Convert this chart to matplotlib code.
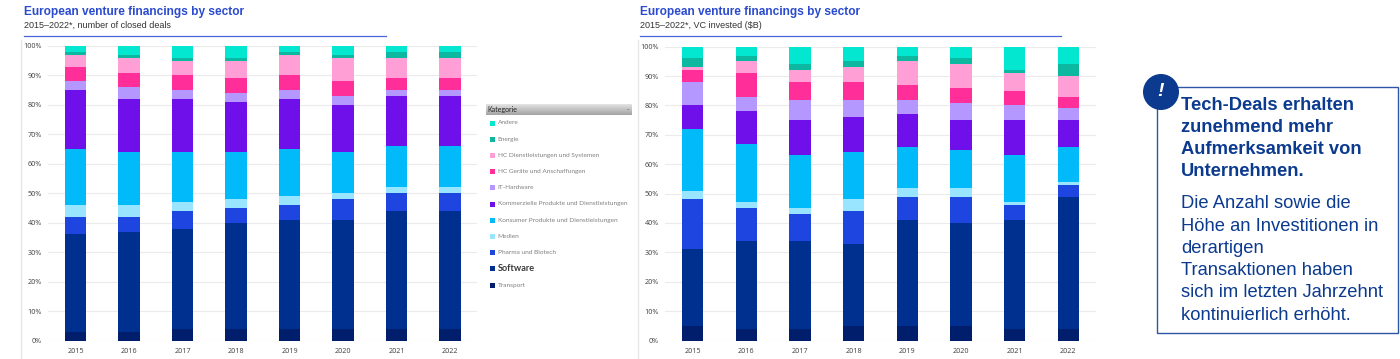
import matplotlib
matplotlib.use("Agg")
import matplotlib.pyplot as plt
from matplotlib.patches import Rectangle, Circle
from matplotlib.ticker import FuncFormatter

W, H = 1400, 359
years = ["2015", "2016", "2017", "2018", "2019", "2020", "2021", "2022"]
categories = ["Transport", "Software", "Pharma und Biotech", "Medien",
              "Konsumer Produkte und Dienstleistungen",
              "Kommerzielle Produkte und Dienstleistungen", "IT-Hardware",
              "HC Geräte und Anschaffungen", "HC Dienstleistungen und Systemen",
              "Energie", "Andere"]
colors = ["#001E6C", "#00308F", "#1F45E0", "#99E4FF", "#00BAFA", "#6F10EA",
          "#B497FF", "#FF2E98", "#FF9FD6", "#0DB8A0", "#03E6D0"]

deals_transport = [3, 3, 4, 4, 4, 4, 4, 4]
deals_software = [33, 34, 34, 36, 37, 37, 40, 40]
deals_pharma = [6, 5, 6, 5, 5, 7, 6, 6]
deals_medien = [4, 4, 3, 3, 3, 2, 2, 2]
deals_konsumer = [19, 18, 17, 16, 16, 14, 14, 14]
deals_kommerz = [20, 18, 18, 17, 17, 16, 17, 17]
deals_it = [3, 4, 3, 3, 3, 3, 2, 2]
deals_hcg = [5, 5, 5, 5, 5, 5, 4, 4]
deals_hcd = [4, 5, 5, 6, 7, 8, 7, 7]
deals_energie = [1, 1, 1, 1, 1, 1, 2, 2]
deals_andere = [2, 3, 4, 4, 2, 3, 2, 2]

vc_transport = [5, 4, 4, 5, 5, 5, 4, 4]
vc_software = [26, 30, 30, 28, 36, 35, 37, 45]
vc_pharma = [17, 11, 9, 11, 8, 9, 5, 4]
vc_medien = [3, 2, 2, 4, 3, 3, 1, 1]
vc_konsumer = [21, 20, 18, 16, 14, 13, 16, 12]
vc_kommerz = [8, 11, 12, 12, 11, 10, 12, 9]
vc_it = [8, 5, 7, 6, 5, 6, 5, 4]
vc_hcg = [4, 8, 6, 6, 5, 5, 5, 4]
vc_hcd = [1, 4, 4, 5, 8, 8, 6, 7]
vc_energie = [3, 2, 2, 2, 2, 2, 1, 4]
vc_andere = [4, 3, 6, 5, 3, 4, 8, 6]

deals = [deals_transport, deals_software, deals_pharma, deals_medien, deals_konsumer,
         deals_kommerz, deals_it, deals_hcg, deals_hcd, deals_energie, deals_andere]
vc = [vc_transport, vc_software, vc_pharma, vc_medien, vc_konsumer,
      vc_kommerz, vc_it, vc_hcg, vc_hcd, vc_energie, vc_andere]

title = "European venture financings by sector"
sub_left = "2015–2022*, number of closed deals"
sub_right = "2015–2022*, VC invested ($B)"
callout_head = ["Tech-Deals erhalten", "zunehmend mehr", "Aufmerksamkeit von", "Unternehmen."]
callout_body = ["Die Anzahl sowie die", "Höhe an Investitionen in", "derartigen",
                "Transaktionen haben", "sich im letzten Jahrzehnt", "kontinuierlich erhöht."]

fig = plt.figure(figsize=(W / 100, H / 100), dpi=100, facecolor="white")
bg = fig.add_axes([0, 0, 1, 1])
bg.set_xlim(0, W)
bg.set_ylim(H, 0)
bg.axis("off")

BLUE = "#2B4BCF"
DARK = "#0B3A8F"
ARIAL = "Liberation Sans"


def chart(left, right, top, bottom, first, last, series):
    ax = fig.add_axes([left / W, 1 - bottom / H, (right - left) / W, (bottom - top) / H])
    ax.patch.set_alpha(0)
    step = (last - first) / 7
    ax.set_xlim((left - first) / step, (right - first) / step)
    ax.set_ylim(0, 100)
    xs = list(range(len(years)))
    base = [0] * len(years)
    for vals, col in zip(series, colors):
        ax.bar(xs, vals, bottom=base, width=21.3 / step, color=col, linewidth=0, zorder=3)
        base = [b + v for b, v in zip(base, vals)]
    ax.set_xticks(xs)
    ax.set_xticklabels(years)
    ax.set_yticks(range(0, 101, 10))
    ax.yaxis.set_major_formatter(FuncFormatter(lambda v, _: f"{int(v)}%"))
    ax.grid(axis="y", color="#EBEBEB", linewidth=0.8, zorder=0)
    ax.tick_params(axis="both", length=0, labelsize=5.2, labelcolor="#4A4A4A")
    ax.tick_params(axis="y", pad=4.5)
    ax.tick_params(axis="x", pad=5.5)
    for lab in ax.get_xticklabels() + ax.get_yticklabels():
        lab.set_family("Noto Sans")
        lab.set_fontweight("semibold")
    for s in ax.spines.values():
        s.set_visible(False)
    return ax


chart(48, 477, 46, 340.5, 75.5, 450, deals)
chart(665, 1096, 46.7, 340.5, 692.7, 1068.3, vc)

# header blocks
for x, xend, sub, vline in [(24, 386, sub_left, 21), (640, 1061, sub_right, 637.5)]:
    bg.text(x, 12.5, title, color=BLUE, fontsize=8.6, fontweight="bold", family=ARIAL, va="center")
    bg.text(x, 25.3, sub, color="#333333", fontsize=6.45, family=ARIAL, va="center")
    bg.plot([x, xend], [35.7, 35.7], color="#4A66D6", lw=0.9)
    bg.plot([vline, vline], [40, 359], color="#E6E6E6", lw=1)

# legend
header_shades = ["#E2E2E2", "#DADADA", "#D4D4D4", "#CECECE", "#C8C8C8", "#C2C2C2",
                 "#BCBCBC", "#B6B6B6", "#B0B0B0", "#AAAAAA", "#A6A6A6"]
for i, shade in enumerate(header_shades):
    bg.add_patch(Rectangle((486, 104 + i), 146, 1.05, facecolor=shade, edgecolor="none"))
bg.text(487, 109.5, "Kategorie", fontsize=5, color="#222222", family="Lato", va="center")
bg.text(627, 109.5, "-", fontsize=5, color="#666666", family="Lato", va="center")
for i, (cat, col) in enumerate(zip(categories[::-1], colors[::-1])):
    y = 123 + i * 16.2
    bg.add_patch(Rectangle((490, y - 2.5), 5, 5, facecolor=col, edgecolor="none"))
    big = cat == "Software"
    bg.text(497.5, y, cat, fontsize=6.6 if big else 4.65, color="#3A3A3A" if big else "#808080",
            family="Lato", va="center", fontweight="bold" if big else "normal")

# callout
bg.add_patch(Rectangle((1157, 87), 241, 246, facecolor="white", edgecolor="#2F55A8", lw=1))
bg.add_patch(Circle((1161, 92), 18, facecolor=DARK, edgecolor="none", zorder=4))
bg.text(1161, 92, "!", color="white", fontsize=14, fontweight="bold", fontstyle="italic",
        family=ARIAL, ha="center", va="center", zorder=5)
for i, line in enumerate(callout_head):
    bg.text(1181, 105.7 + i * 22, line, color=DARK, fontsize=13.2, fontweight="bold",
            family=ARIAL, va="center", zorder=5)
for i, line in enumerate(callout_body):
    bg.text(1181, 204 + i * 22.2, line, color=DARK, fontsize=13.2, family=ARIAL, va="center", zorder=5)

fig.savefig("out.png", dpi=100, facecolor="white")
